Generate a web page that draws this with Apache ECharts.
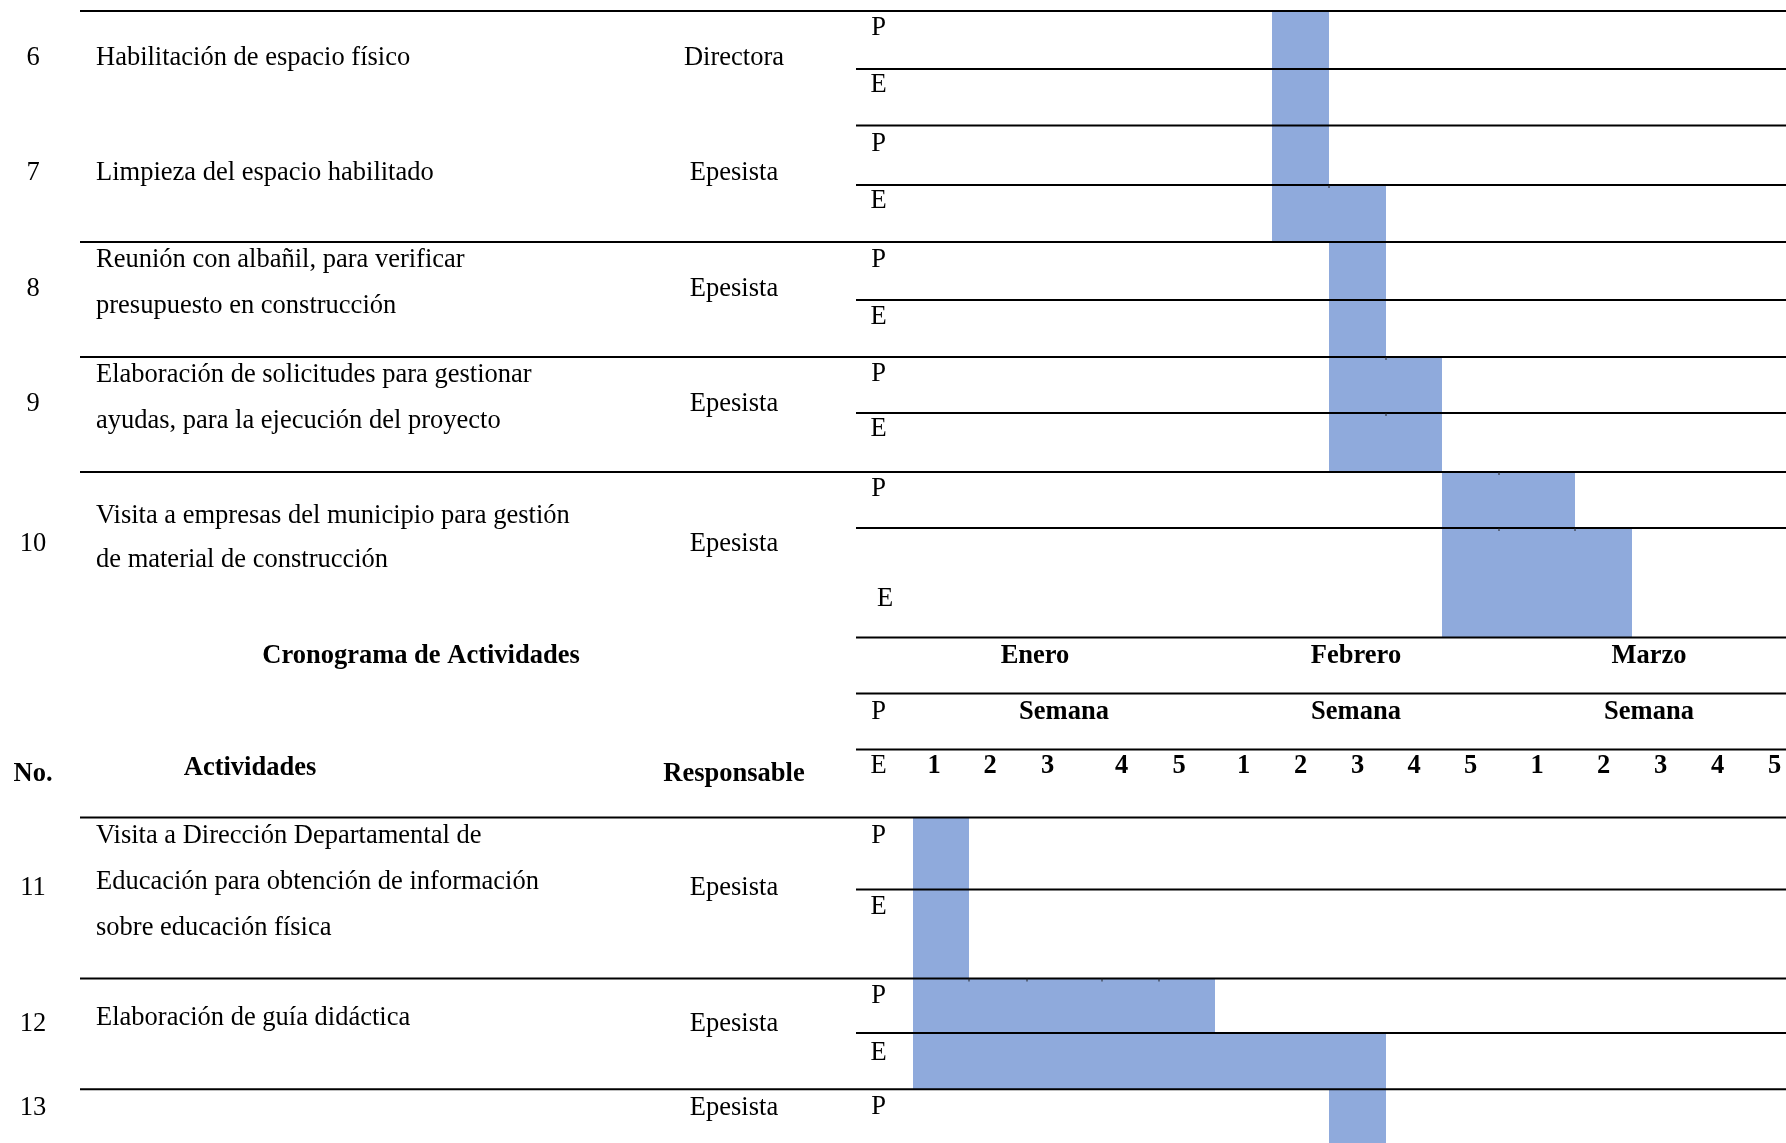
<!DOCTYPE html>
<html><head><meta charset="utf-8">
<script src="https://cdn.jsdelivr.net/npm/echarts@6/dist/echarts.min.js"></script>
<style>html,body{margin:0;padding:0;background:#fff}#c{width:1786px;height:1143px}</style>
</head><body><div id="c"></div>
<script>
// ---------- data ----------
const title = 'Cronograma de Actividades';
const headNo = 'No.';
const headAct = 'Actividades';
const headResp = 'Responsable';
const activityNo = ['6','7','8','9','10','11','12','13'];
const activityLines = [
  ['Habilitación de espacio físico'],
  ['Limpieza del espacio habilitado'],
  ['Reunión con albañil, para verificar','presupuesto en construcción'],
  ['Elaboración de solicitudes para gestionar','ayudas, para la ejecución del proyecto'],
  ['Visita a empresas del municipio para gestión','de material de construcción'],
  ['Visita a Dirección Departamental de','Educación para obtención de información','sobre educación física'],
  ['Elaboración de guía didáctica'],
  []
];
const responsables = ['Directora','Epesista','Epesista','Epesista','Epesista','Epesista','Epesista','Epesista'];
const months = ['Enero','Febrero','Marzo'];
const weekHeader = 'Semana';
const weekLabels = ['1','2','3','4','5','1','2','3','4','5','1','2','3','4','5'];
const planLabel = 'P';
const execLabel = 'E';
// [first week index, last week index] (weeks 0..14 = Ene 1..5, Feb 1..5, Mar 1..5)
const planned  = [[6,6],[6,6],[7,7],[7,8],[9,10],[0,0],[0,4],[7,7]];
const executed = [[6,6],[6,7],[7,7],[7,8],[9,11],[0,0],[0,7],null];

// ---------- layout ----------
const W = 1786, H = 1143;
const colEdges = [913,969,1027,1102,1159,1215,1272,1329,1386,1442,1499,1575,1632,1689,1746,1803];
const rowTop = [11,125.5,242,357,472,817.5,978.5,1089.3];
const rowMid = [69,185,300,413,528,889.5,1033,1200];
const rowBot = [125.5,242,357,472,637.4,978.5,1089.3,1200];
const fullLineRows = [0,2,3,4,5,6,7];
const headerLines = [637.4,693.5,749.6];
const tableLeft = 80, ganttLeft = 856;
const DY = 1;
const textLineY = [[57],[172],[259.5,305.4],[374.3,420.2],[514.7,559.5],[835.5,881.2,926.6],[1017.3],[]];
const rowCenterY = [57,172,288,402.6,543.5,887.4,1023,1107.3];
const pY = [26.8,143.5,259.5,373,488,835.5,994.8,1106];
const eY = [84.2,200,316,428,598,906.5,1052,null];
const peX = 878.5;
const eX = [peX,peX,peX,peX,885,peX,peX,peX];
const weekLabelShift = [-7,-8,-17,-9,-8,0,0,0,0,0,0,0,0,0,0];
const monthX = [1035,1356,1649];
const semanaX = [1064,1356,1649];
const execTickRows = [0,1,2,3,4,5];
const FS = 26.5;
const FONT = '"Liberation Serif","Times New Roman",serif';
const BAR = '#8FAADC';

// ---------- build tables ----------
const bars = [];
planned.forEach((r,i)=>{ if(r) bars.push({s:r[0],e:r[1],y0:rowTop[i],y1:rowMid[i],tick:true}); });
executed.forEach((r,i)=>{ if(r) bars.push({s:r[0],e:r[1],y0:rowMid[i],y1:rowBot[i],tick:execTickRows.includes(i)}); });

const lines = [];
fullLineRows.forEach(i=>lines.push({x0:tableLeft,x1:W,y:rowTop[i]}));
lines.push({x0:ganttLeft,x1:W,y:rowTop[1]});
rowMid.slice(0,7).forEach(y=>lines.push({x0:ganttLeft,x1:W,y}));
headerLines.forEach(y=>lines.push({x0:ganttLeft,x1:W,y}));

// small cell-border ticks at the top of bars
const ticks = [];
bars.forEach(b=>{ if(b.tick) for(let k=b.s+1;k<=b.e;k++) ticks.push([colEdges[k],b.y0]); });

const texts = [];
function T(x,y,text,bold,align){ texts.push({x,y:y+DY,text,bold:!!bold,align:align||'center'}); }
activityNo.forEach((n,i)=>{
  T(33,rowCenterY[i],n);
  T(734,rowCenterY[i],responsables[i]);
  activityLines[i].forEach((s,k)=>T(96,textLineY[i][k],s,false,'left'));
  T(eX[0],pY[i],planLabel);
  if(eY[i]!=null) T(eX[i],eY[i],execLabel);
});
T(421,655,title,true);
T(33,773,headNo,true);
T(250,767,headAct,true);
T(734,773,headResp,true);
months.forEach((m,i)=>{ T(monthX[i],655,m,true); T(semanaX[i],711,weekHeader,true); });
T(peX,711,planLabel);
T(peX,765.5,execLabel);
weekLabels.forEach((w,i)=>T((colEdges[i]+colEdges[i+1])/2+weekLabelShift[i],765.5,w,true));

const chart = echarts.init(document.getElementById('c'),null,{renderer:'canvas'});
chart.setOption({
  animation:false,
  backgroundColor:'#ffffff',
  grid:{left:0,right:0,top:0,bottom:0},
  xAxis:{type:'value',min:0,max:W,show:false},
  yAxis:{type:'value',min:0,max:H,inverse:true,show:false},
  series:[
    {type:'custom',z:1,data:bars.map(b=>[colEdges[b.s],b.y0,colEdges[b.e+1],b.y1]),
     renderItem:(p,api)=>{
       const a=api.coord([api.value(0),api.value(1)]), b=api.coord([api.value(2),api.value(3)]);
       return {type:'rect',shape:{x:a[0],y:a[1],width:b[0]-a[0],height:b[1]-a[1]},style:{fill:BAR}};
     }},
    {type:'custom',z:2,data:lines.map(l=>[l.x0,l.x1,l.y]),
     renderItem:(p,api)=>{
       const a=api.coord([api.value(0),api.value(2)]), b=api.coord([api.value(1),api.value(2)]);
       return {type:'line',shape:{x1:a[0],y1:a[1],x2:b[0],y2:b[1]},style:{stroke:'#000',lineWidth:2}};
     }},
    {type:'custom',z:2,data:ticks,
     renderItem:(p,api)=>{
       const a=api.coord([api.value(0),api.value(1)]);
       return {type:'line',shape:{x1:a[0],y1:a[1],x2:a[0],y2:a[1]+3},style:{stroke:'#222',lineWidth:1}};
     }},
    {type:'custom',z:3,data:texts.map(t=>[t.x,t.y]),
     renderItem:(p,api)=>{
       const t=texts[p.dataIndex]; const a=api.coord([api.value(0),api.value(1)]);
       return {type:'text',x:a[0],y:a[1],style:{text:t.text,fill:'#000',
         font:(t.bold?'bold ':'')+FS+'px '+FONT,align:t.align,verticalAlign:'middle'}};
     }}
  ]
});
</script></body></html>
